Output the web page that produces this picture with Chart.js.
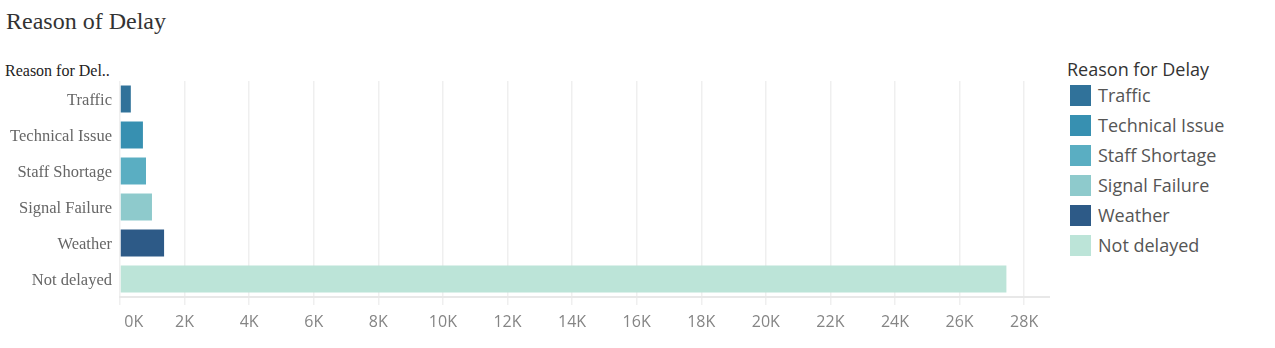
<!DOCTYPE html>
<html>
<head>
<meta charset="utf-8">
<script src="https://cdn.jsdelivr.net/npm/chart.js@4"></script>
<style>
    body { margin: 0; background: #fff; }
    #wrap { position: relative; width: 1275px; height: 348px; overflow: hidden; }
    #titre { position: absolute; left: 6px; top: 8px; font: 24px "Liberation Serif", serif; color: #333; }
    #titre-axe { position: absolute; left: 5px; top: 62px; font: 16px "Liberation Serif", serif; color: #222; }
    #graph { position: absolute; left: 0; top: 0; width: 1050px; height: 348px; }
    #legende { position: absolute; left: 1067px; top: 57px; font-family: "Open Sans", sans-serif; }
    #legende .titre { font-size: 18px; color: #333; height: 23px; line-height: 24px; }
    #legende .item { height: 30px; display: flex; align-items: center; font-size: 18px; color: #555; }
    #legende .carre { width: 21px; height: 21px; margin-left: 3px; margin-right: 7px; }
</style>
</head>
<body>
<div id="wrap">
    <div id="titre">Reason of Delay</div>
    <div id="titre-axe">Reason for Del..</div>
    <div id="graph"><canvas id="graphique-delai"></canvas></div>
    <div id="legende"></div>
</div>
<script>
// Données
const raisons = ["Traffic", "Technical Issue", "Staff Shortage", "Signal Failure", "Weather", "Not delayed"]
const nbRetards = [335, 710, 805, 990, 1365, 27450]
const couleurs = ["#30729a", "#3790b1", "#5aaec2", "#8ecacc", "#2d5a87", "#bce4d8"]
const titreLegende = "Reason for Delay"

// Légende à droite
const legende = document.querySelector("#legende")
legende.innerHTML = `<div class="titre">${titreLegende}</div>`
raisons.forEach((r, i) => {
    legende.innerHTML += `<div class="item"><span class="carre" style="background:${couleurs[i]}"></span>${r}</div>`
})

const data = {
    labels: raisons,
    datasets: [{
        label: titreLegende,
        data: nbRetards,
        backgroundColor: couleurs,
        barPercentage: 0.75,
        categoryPercentage: 1,
    }],
}

const config = {
    type: "bar",
    data: data,
    options: {
        indexAxis: "y",
        responsive: true,
        maintainAspectRatio: false,
        animation: false,
        layout: { padding: { top: 81, left: 0, right: 0, bottom: 0 } },
        plugins: {
            legend: { display: false },
            tooltip: { enabled: false },
        },
        scales: {
            x: {
                min: 0,
                max: 28800,
                afterFit: (scale) => { scale.height = 51 },
                afterBuildTicks: (scale) => {
                    const t = []
                    for (let v = 0; v <= 28000; v += 2000) t.push({ value: v })
                    scale.ticks = t
                },
                grid: { color: "#efefef", lineWidth: 1.5, tickLength: 8 },
                border: { color: "#e8e8e8", width: 2 },
                ticks: {
                    padding: 8,
                    color: "#858585",
                    font: { family: "Open Sans", size: 16 },
                    // le premier libellé est décalé vers la droite comme dans Tableau
                    callback: (v) => (v === 0 ? "\u2007\u2007\u2007" : "") + (v / 1000) + "K",
                },
            },
            y: {
                afterFit: (scale) => { scale.width = 120 },
                grid: { display: false, drawTicks: false },
                border: { display: false },
                ticks: {
                    padding: 8,
                    labelOffset: 2,
                    color: "#666",
                    font: { family: "Liberation Serif", size: 16.5 },
                },
            },
        },
    },
}

const graphiqueDelai = new Chart(document.querySelector("#graphique-delai"), config)
</script>
</body>
</html>
